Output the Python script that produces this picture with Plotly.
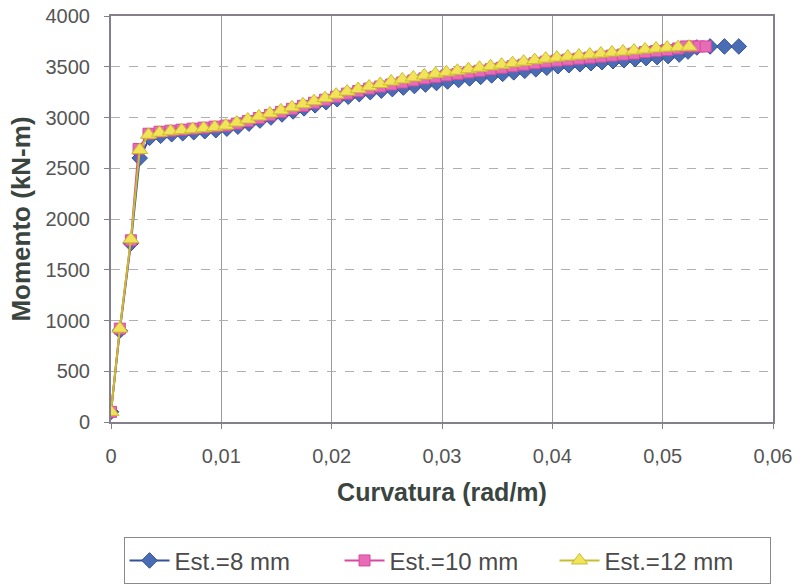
import plotly.graph_objects as go

# Curvature (rad/m) and moment (kN-m) per series
x_8 = [0, 0.0008, 0.0018, 0.0026,
       0.0035, 0.0045, 0.0055, 0.0065, 0.0075, 0.0085, 0.0095, 0.0105, 0.0115, 0.0125,
       0.0135, 0.0145, 0.0155, 0.0165, 0.0175, 0.0185, 0.0195, 0.0205, 0.0215, 0.0225,
       0.0235, 0.0245, 0.0255, 0.0265, 0.0275, 0.0285, 0.0295, 0.0305, 0.0315, 0.0325,
       0.0335, 0.0345, 0.0355, 0.0365, 0.0375, 0.0385, 0.0395, 0.0405, 0.0415, 0.0425,
       0.0435, 0.0445, 0.0455, 0.0465, 0.0475, 0.0485, 0.0495, 0.0505, 0.0515, 0.0523,
       0.0531, 0.0543, 0.0556, 0.0569]
m_8 = [100, 900, 1760, 2600,
       2800, 2820, 2835, 2845, 2855, 2865, 2875, 2890, 2910, 2940,
       2970, 3000, 3030, 3060, 3090, 3120, 3150, 3180, 3205, 3230,
       3250, 3265, 3280, 3295, 3310, 3325, 3340, 3355, 3370, 3385,
       3400, 3415, 3430, 3445, 3460, 3475, 3490, 3505, 3515, 3525,
       3535, 3545, 3555, 3565, 3575, 3585, 3595, 3605, 3620, 3650,
       3690, 3700, 3700, 3700]

x_10 = [0, 0.0008, 0.0018, 0.0025,
        0.0034, 0.0044, 0.0054, 0.0064, 0.0074, 0.0084, 0.0094, 0.0104, 0.0114, 0.0124,
        0.0134, 0.0144, 0.0154, 0.0164, 0.0174, 0.0184, 0.0194, 0.0204, 0.0214, 0.0224,
        0.0234, 0.0244, 0.0254, 0.0264, 0.0274, 0.0284, 0.0294, 0.0304, 0.0314, 0.0324,
        0.0334, 0.0344, 0.0354, 0.0364, 0.0374, 0.0384, 0.0394, 0.0404, 0.0414, 0.0424,
        0.0434, 0.0444, 0.0454, 0.0464, 0.0474, 0.0484, 0.0494, 0.0504, 0.0514,
        0.0521, 0.0527, 0.0533, 0.0539]
m_10 = [100, 920, 1790, 2690,
        2840, 2860, 2870, 2880, 2890, 2900, 2910, 2920, 2940, 2965,
        2995, 3025, 3055, 3085, 3115, 3145, 3175, 3205, 3235, 3260,
        3285, 3305, 3325, 3345, 3365, 3385, 3400, 3415, 3430, 3445,
        3460, 3475, 3490, 3505, 3520, 3535, 3550, 3560, 3570, 3580,
        3590, 3600, 3610, 3620, 3630, 3645, 3655, 3665, 3680,
        3700, 3700, 3700, 3700]

x_12 = [0, 0.0008, 0.0018, 0.0026,
        0.0034, 0.0044, 0.0054, 0.0064, 0.0074, 0.0084, 0.0094, 0.0104, 0.0114, 0.0124,
        0.0134, 0.0144, 0.0154, 0.0164, 0.0174, 0.0184, 0.0194, 0.0204, 0.0214, 0.0224,
        0.0234, 0.0244, 0.0254, 0.0264, 0.0274, 0.0284, 0.0294, 0.0304, 0.0314, 0.0324,
        0.0334, 0.0344, 0.0354, 0.0364, 0.0374, 0.0384, 0.0394, 0.0404, 0.0414, 0.0424,
        0.0434, 0.0444, 0.0454, 0.0464, 0.0474, 0.0484, 0.0494, 0.0504, 0.0514, 0.0524]
m_12 = [100, 920, 1800, 2680,
        2830, 2850, 2865, 2875, 2885, 2895, 2905, 2920, 2950, 2980,
        3010, 3040, 3070, 3100, 3130, 3160, 3190, 3225, 3255, 3280,
        3305, 3330, 3355, 3375, 3395, 3415, 3430, 3445, 3460, 3475,
        3490, 3505, 3520, 3535, 3550, 3565, 3580, 3590, 3600, 3610,
        3620, 3630, 3640, 3650, 3660, 3670, 3680, 3688, 3693, 3698]

names = ["Est.=8 mm", "Est.=10 mm", "Est.=12 mm"]
line_colors = ["#34509a", "#d9489e", "#c9bd2e"]
fill_colors = ["#4a6cb3", "#e76cb6", "#f2e45a"]
symbols = ["diamond", "square", "triangle-up"]
sizes = [12, 11, 14]

fig = go.Figure()
for xs, ms, name, lc, fc, sym, sz in zip([x_8, x_10, x_12], [m_8, m_10, m_12], names,
                                         line_colors, fill_colors, symbols, sizes):
    fig.add_trace(go.Scatter(
        x=xs, y=ms, name=name, mode="lines+markers",
        line=dict(color=lc, width=2),
        marker=dict(symbol=sym, size=sz, color=fc, line=dict(color=lc, width=1)),
    ))

title_color = "#3a4540"
fig.update_layout(
    width=806, height=585,
    margin=dict(l=111, r=33, t=16, b=163, autoexpand=False),
    paper_bgcolor="white", plot_bgcolor="white",
    separators=", ",
    font=dict(family="Liberation Sans, Arial, sans-serif", color="#555555", size=20),
    showlegend=True,
    legend=dict(
        orientation="h", x=0.5076, xanchor="center", y=-0.342, yanchor="middle",
        bordercolor="#8a8a8a", borderwidth=1, bgcolor="white",
        font=dict(size=24, color="#4a4a4a"), itemwidth=40, entrywidth=160,
        tracegroupgap=0,
    ),
    xaxis=dict(
        range=[0, 0.06], dtick=0.01, tick0=0,
        showline=True, linecolor="#857f8c", linewidth=2, mirror=True,
        showgrid=True, gridcolor="#9a9a9a", gridwidth=1,
        ticks="outside", ticklen=5, tickcolor="#857f8c", ticklabelstandoff=10,
        tickfont=dict(size=20, color="#555555"),
        zeroline=False,
        title=dict(text="<b>Curvatura (rad/m)</b>", font=dict(size=25, color=title_color), standoff=17),
    ),
    yaxis=dict(
        range=[0, 4000], dtick=500, tick0=0,
        showline=True, linecolor="#857f8c", linewidth=2, mirror=True,
        showgrid=True, gridcolor="#b0b0b0", gridwidth=1, griddash="dash",
        ticks="outside", ticklen=5, tickcolor="#857f8c", ticklabelstandoff=10,
        tickfont=dict(size=20, color="#555555"), ticklabeloverflow="allow",
        zeroline=False,
        title=dict(text="<b>Momento (kN-m)</b>", font=dict(size=26, color=title_color), standoff=7),
    ),
)

# remove the browser's default page margin so the figure sits at the window origin
fig.write_html("out.html", config={"displayModeBar": False},
               post_script="document.body.style.margin='0';")
